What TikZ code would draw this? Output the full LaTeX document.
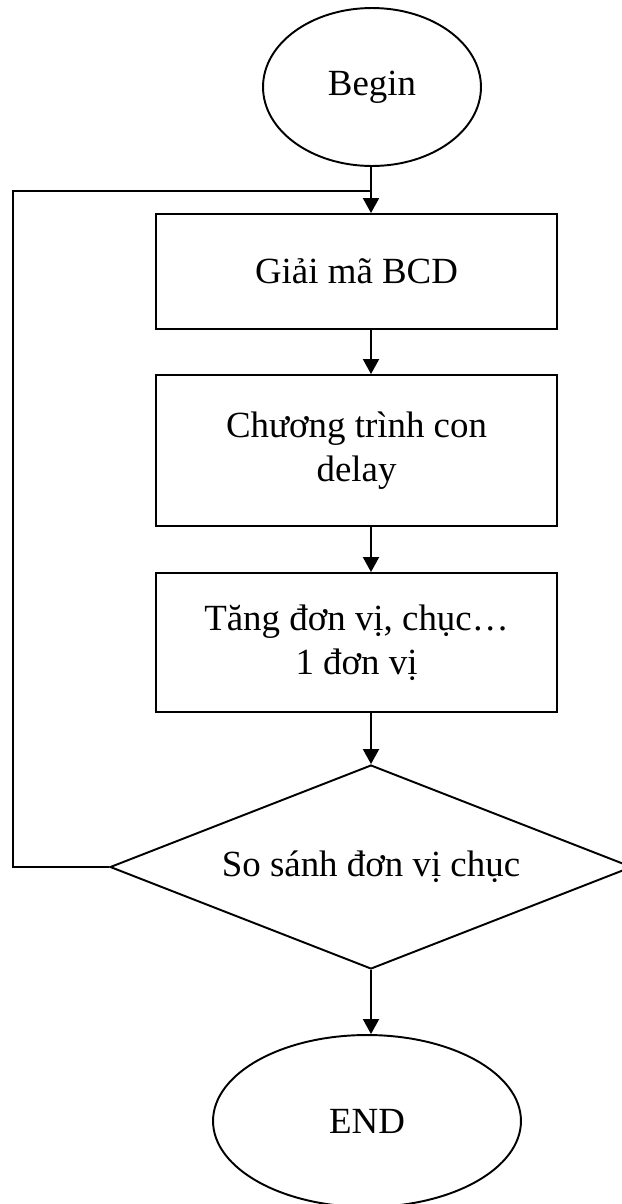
\documentclass[tikz,border=0pt]{standalone}
\usepackage{fontspec}
\setmainfont{Liberation Serif}
\usetikzlibrary{shapes.geometric,arrows.meta}

\begin{document}
\begin{tikzpicture}[x=0.02cm, y=-0.02cm, line width=1.1pt,
		font=\fontsize{21}{25}\selectfont,
		startend/.style={ellipse, draw, inner sep=0pt},
		procbox/.style={rectangle, draw, minimum width=8.02cm, align=center, inner sep=0pt},
		decide/.style={diamond, draw, aspect=2.56, minimum width=10.44cm, minimum height=4.08cm, inner sep=0pt},
		flow/.style={-{Triangle[width=0.32cm,length=0.3cm]}}]
		%%%%% START %%%%%
		\useasboundingbox (0,0) rectangle (622,1204);
		
		\node[startend, minimum width=4.36cm, minimum height=3.16cm] (begin) at (372, 87) {Begin};
		
		\node[procbox, minimum height=2.3cm] (decode) at (356.5, 271.5) {Giải mã BCD};
		\node[procbox, minimum height=3.02cm] (delay) at (356.5, 450.5) {Chương trình con\\delay};
		\node[procbox, minimum height=2.78cm] (count) at (356.5, 642.5) {Tăng đơn vị, chục…\\1 đơn vị};
		
		\node[decide] (cmp) at (371, 867) {So sánh đơn vị chục};
		
		\node[startend, minimum width=6.16cm, minimum height=3.44cm] (stop) at (367, 1121) {END};
		
		\coordinate (loopc) at (13, 191);
		\coordinate (joinc) at (371, 191);
		
		\draw[flow] (begin.south -| joinc) -- (decode.north -| joinc);
		\draw[flow] (decode.south -| joinc) -- (delay.north -| joinc);
		\draw[flow] (delay.south -| joinc) -- (count.north -| joinc);
		\draw[flow] (count.south -| joinc) -- (cmp.north);
		\draw[flow] (cmp.south) -- (cmp.south |- stop.north);
		
		\draw (cmp.west) -| (loopc) -- (joinc);
		
		%%%%% END %%%%%
	\end{tikzpicture}
\end{document}
